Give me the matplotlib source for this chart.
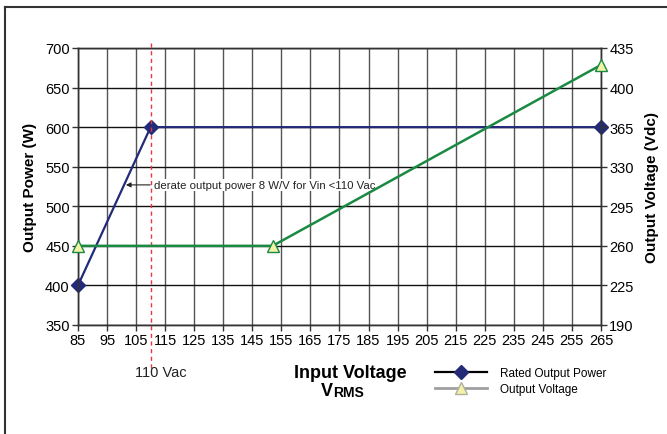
import matplotlib
matplotlib.use("Agg")
import matplotlib.pyplot as plt
from matplotlib.lines import Line2D
import matplotlib.font_manager as fm

names = {f.name for f in fm.fontManager.ttflist}
narrow = 'Liberation Sans Narrow' if 'Liberation Sans Narrow' in names else 'Liberation Sans'
plt.rcParams['font.family'] = [narrow, 'DejaVu Sans']

# Data
power_x = [85, 110, 265]
power_y = [400, 600, 600]
volt_x = [85, 152, 265]
volt_y = [260, 260, 420]
x_ticks = list(range(85, 266, 10))
left_ticks = [350, 400, 450, 500, 550, 600, 650, 700]
right_ticks = [190, 225, 260, 295, 330, 365, 400, 435]

navy = '#232a78'
green = '#1a8a43'
yellow = '#f3f3a8'

fig = plt.figure(figsize=(6.67, 4.35), dpi=100)
ax = fig.add_axes([0.1169, 0.2506, 0.7841, 0.6368])
ax2 = ax.twinx()

ax.set_xlim(85, 265)
ax.set_ylim(350, 700)
ax2.set_ylim(190, 435)

ax.set_xticks(x_ticks)
ax.set_yticks(left_ticks)
ax2.set_yticks(right_ticks)
ax.tick_params(axis='both', labelsize=10.5, length=4, width=1, color='#333333', pad=2)
ax2.tick_params(axis='y', labelsize=10.5, length=4, width=1, color='#333333', pad=2)

ax.grid(axis='x', color='#555555', linewidth=1)
ax.grid(axis='y', color='#111111', linewidth=1)
ax.set_axisbelow(True)
for a in (ax, ax2):
    for s in ('top', 'bottom', 'left', 'right'):
        a.spines[s].set_color('#333333')
        a.spines[s].set_linewidth(1)

ax.plot(power_x, power_y, color=navy, linewidth=1.6, marker='D', markersize=7,
        markerfacecolor=navy, markeredgecolor=navy, zorder=5, clip_on=False)
ax2.plot(volt_x, volt_y, color=green, linewidth=1.8, marker='^', markersize=9,
         markerfacecolor=yellow, markeredgecolor=green, zorder=5, clip_on=False)

# red dashed line at 110 Vac
ax.axvline(110, ymin=-0.155, ymax=1.027, color='#e8373c', linestyle=(0, (3, 2.5)),
           linewidth=1, clip_on=False, zorder=6)

ax.annotate('derate output power 8 W/V for Vin <110 Vac', xy=(101.5, 527), xytext=(111.2, 527),
            fontsize=8.2, va='center', ha='left', color='#222222',
            bbox=dict(boxstyle='square,pad=0.1', fc='white', ec='none'),
            arrowprops=dict(arrowstyle='-|>', color='#222222', lw=0.8, mutation_scale=7,
                            shrinkA=2, shrinkB=0), zorder=7)

ax.set_ylabel('Output Power (W)', fontsize=11, fontweight='bold', family=['Liberation Sans'], labelpad=6)
ax2.set_ylabel('Output Voltage (Vdc)', fontsize=11, fontweight='bold', family=['Liberation Sans'], labelpad=8)

W, H = 667, 435
def fx(px):
    return px / W
def fy(py):
    return 1 - py / H

fig.text(fx(161), fy(373), '110 Vac', fontsize=10.5, ha='center', va='center', color='#222222')
fig.text(fx(350), fy(374), 'Input Voltage', fontsize=13, fontweight='bold', ha='center', va='center')
fig.text(fx(333), fy(392), 'V', fontsize=13, fontweight='bold', ha='right', va='center')
fig.text(fx(333), fy(393), 'RMS', fontsize=10, fontweight='bold', ha='left', va='center')

handles = [
    Line2D([], [], color='black', linewidth=1.6, marker='D', markersize=7,
           markerfacecolor=navy, markeredgecolor=navy),
    Line2D([], [], color='#a0a0a0', linewidth=2, marker='^', markersize=9,
           markerfacecolor=yellow, markeredgecolor='#b0b0a0'),
]
fig.legend(handles, ['Rated Output Power', 'Output Voltage'], loc='upper left',
           bbox_to_anchor=(fx(435), fy(368)), frameon=False, fontsize=8.5,
           handlelength=4.4, handletextpad=1.1, labelspacing=0.35, borderaxespad=0,
           borderpad=0)

# outer frame
fig.add_artist(Line2D([fx(5), fx(5)], [fy(8), 0], color='#333333', linewidth=1.5))
fig.add_artist(Line2D([fx(5), 1], [fy(8), fy(8)], color='#333333', linewidth=1.5))

fig.savefig('out.png', dpi=100)
